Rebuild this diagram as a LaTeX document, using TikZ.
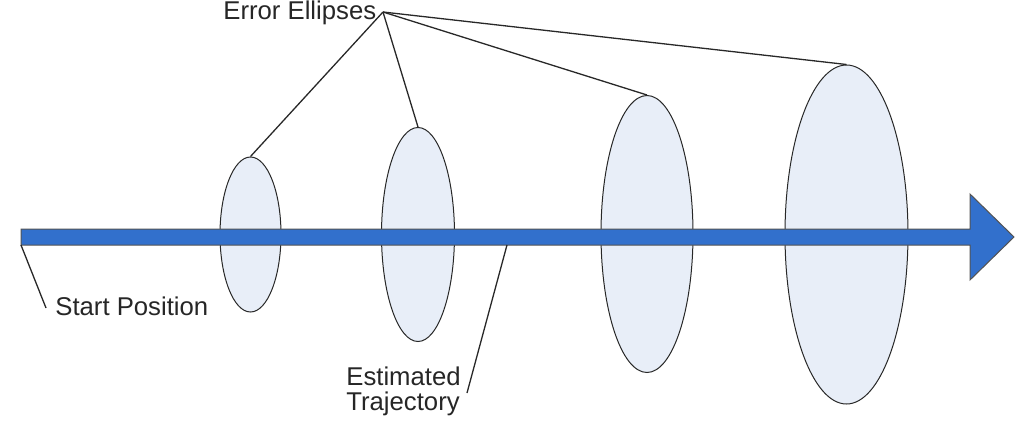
\documentclass[tikz,border=0pt]{standalone}
\usepackage{fontspec}
\setmainfont{Liberation Sans}
\usetikzlibrary{shapes.geometric,positioning,calc}
\definecolor{trajBlue}{RGB}{50,112,204}
\definecolor{ellFill}{RGB}{232,238,248}
\definecolor{edgeDark}{RGB}{40,40,40}
\tikzset{
    errEllipse/.style={
        ellipse,
        draw=edgeDark,
        fill=ellFill,
        line width=0.5pt,
        inner sep=0pt
    },
    trajArrow/.style={fill=trajBlue, draw=edgeDark!80, line width=0.5pt, line join=miter},
    % Callouts
    leader/.style={draw=edgeDark, line width=0.65pt},
    calloutText/.style={
        font=\fontsize{12.85}{13}\selectfont,
        text=black!85,
        inner sep=0pt,
        anchor=base west,
        align=left
    }
}
\begin{document}
\begin{tikzpicture}[x=0.5pt, y=-0.5pt]
    \useasboundingbox (0,0) rectangle (1025,423);

    % Error ellipses
    \node[errEllipse, minimum width=30.5pt, minimum height=77.5pt] (ell1) at (250.5,234.5) {};
    \node[errEllipse, minimum width=36.5pt, minimum height=107pt] (ell2) at (418,234.5) {};
    \node[errEllipse, minimum width=46pt, minimum height=138.5pt] (ell3) at (647,234) {};
    \node[errEllipse, minimum width=61.5pt, minimum height=169.5pt] (ell4) at (846.5,234.5) {};

    % Trajectory arrow
    \coordinate (trajStart) at (21,245);
    \coordinate (trajMid) at (507,245);
    \draw[trajArrow] (21,229) -- (970,229) -- (970,194) -- (1014,237)
        -- (970,280) -- (970,245) -- (trajStart) -- cycle;

    % Labels
    \node[calloutText] (errLbl) at (223,19.5) {Error Ellipses};
    \node[calloutText] (startLbl) at (55,315) {Start Position};
    \node[calloutText, text width=60pt, font=\fontsize{12.85}{13}\selectfont] (trajLbl) at (346,385) {Estimated\\Trajectory};

    % Leader lines
    \coordinate (hub) at (383,12);
    \foreach \e in {ell1,ell2,ell3,ell4}
        \draw[leader] (hub) -- (\e.north);
    \draw[leader] (trajStart) -- ($(startLbl.base west)+(-9,-7)$);
    \draw[leader] (trajMid) -- (467,393);
\end{tikzpicture}
\end{document}
